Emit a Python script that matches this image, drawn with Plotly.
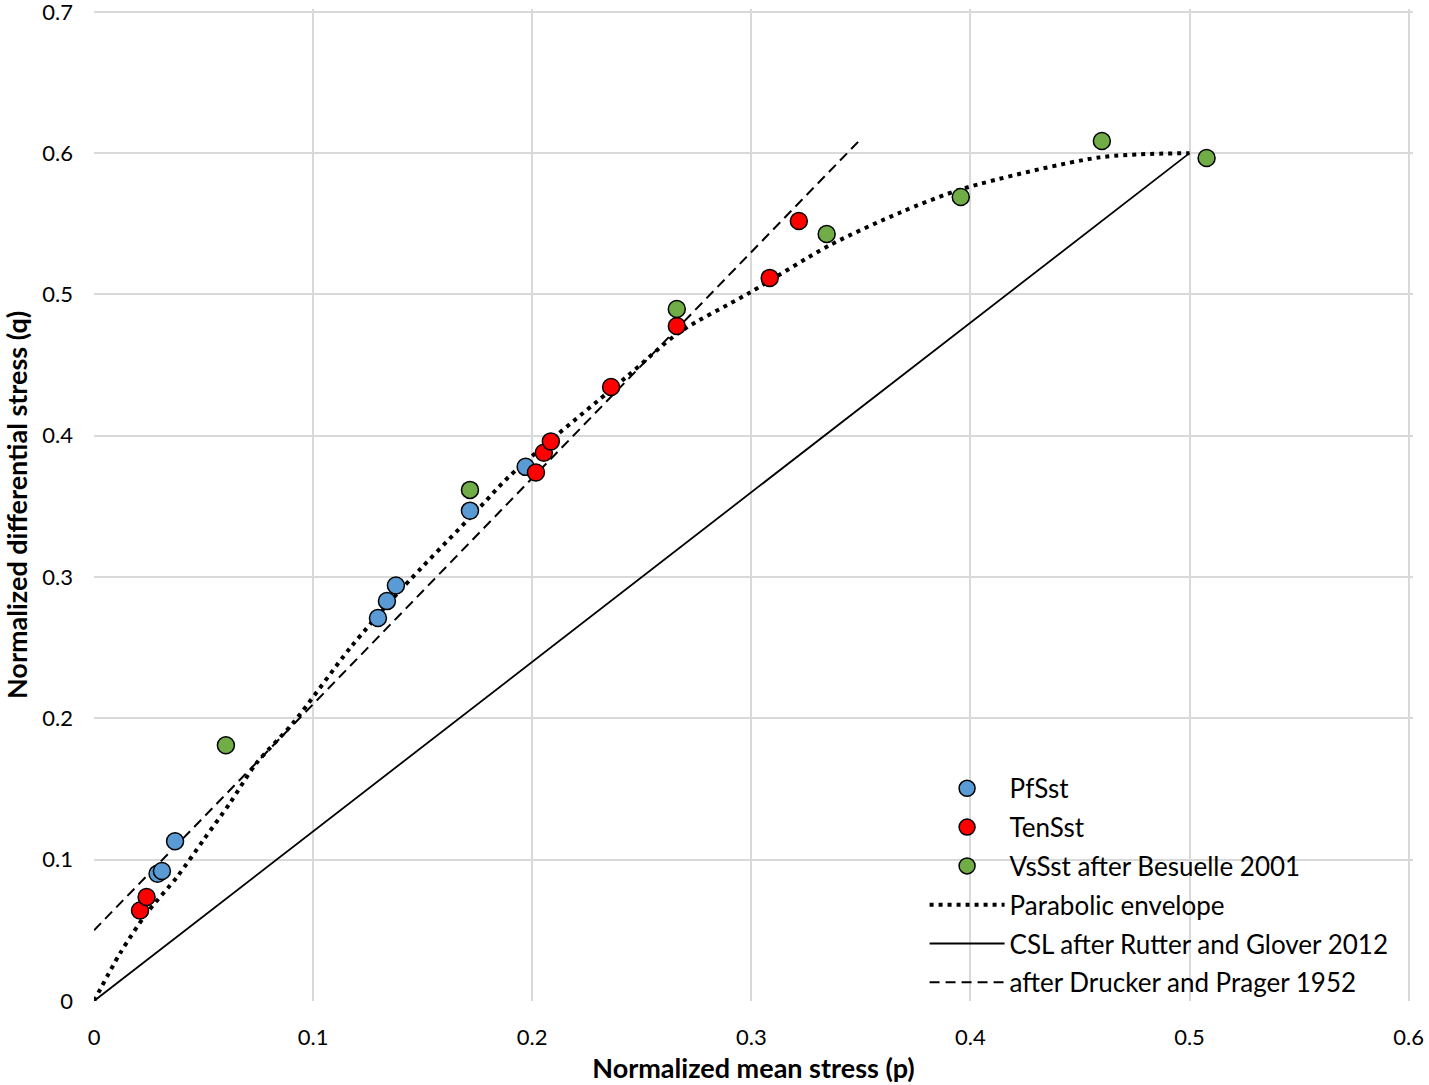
import plotly.graph_objects as go

# PfSst
pf_p = [0.037, 0.029, 0.031, 0.1296, 0.1337, 0.1378, 0.1716, 0.197]
pf_q = [0.113, 0.090, 0.092, 0.271, 0.283, 0.294, 0.347, 0.378]
# TenSst
ten_p = [0.021, 0.024, 0.2017, 0.2053, 0.2085, 0.236, 0.266, 0.3084, 0.3217]
ten_q = [0.064, 0.0736, 0.374, 0.388, 0.396, 0.4345, 0.4777, 0.5117, 0.552]
# VsSst after Besuelle 2001
vs_p = [0.0602, 0.1716, 0.266, 0.3344, 0.3956, 0.46, 0.5078]
vs_q = [0.181, 0.3617, 0.4897, 0.5428, 0.569, 0.6086, 0.5966]
# Parabolic envelope
par_p = [0, 0.012, 0.024, 0.038, 0.05, 0.062, 0.074, 0.091, 0.117, 0.14, 0.175, 0.19, 0.243, 0.267, 0.299, 0.336, 0.368, 0.397, 0.459, 0.5]
par_q = [0, 0.034, 0.062, 0.088, 0.114, 0.140, 0.168, 0.197, 0.250, 0.291, 0.3475, 0.372, 0.4416, 0.473, 0.501, 0.535, 0.558, 0.575, 0.597, 0.6]
# CSL after Rutter and Glover 2012
csl_p = [0, 0.5]
csl_q = [0, 0.6]
# after Drucker and Prager 1952
dp_p = [0, 0.35]
dp_q = [0.05, 0.61]

x_ticks = [0, 0.1, 0.2, 0.3, 0.4, 0.5, 0.6]
x_labels = ["0", "0.1", "0.2", "0.3", "0.4", "0.5", "0.6"]
y_ticks = [0, 0.1, 0.2, 0.3, 0.4, 0.5, 0.6, 0.7]
y_labels = ["0", "0.1", "0.2", "0.3", "0.4", "0.5", "0.6", "0.7"]

FONT = "Lato"
fig = go.Figure()

fig.add_trace(go.Scatter(x=par_p, y=par_q, mode="lines", name="Parabolic envelope",
                         line=dict(color="black", width=4, dash="4px,5px", shape="spline", smoothing=0.8),
                         legendrank=4, legendgroup="d"))
fig.add_trace(go.Scatter(x=csl_p, y=csl_q, mode="lines", name="CSL after Rutter and Glover 2012",
                         line=dict(color="black", width=1.8), legendrank=5, legendgroup="e"))
fig.add_trace(go.Scatter(x=dp_p, y=dp_q, mode="lines", name="after Drucker and Prager 1952",
                         line=dict(color="black", width=2, dash="10px,6px"), legendrank=6, legendgroup="f"))

mk = dict(size=17, line=dict(color="black", width=1.5))
fig.add_trace(go.Scatter(x=pf_p, y=pf_q, mode="markers", name="PfSst",
                         marker=dict(color="#5B9BD5", **mk), legendrank=1, legendgroup="a"))
fig.add_trace(go.Scatter(x=ten_p, y=ten_q, mode="markers", name="TenSst",
                         marker=dict(color="#FF0000", **mk), legendrank=2, legendgroup="b"))
fig.add_trace(go.Scatter(x=vs_p, y=vs_q, mode="markers", name="VsSst after Besuelle 2001",
                         marker=dict(color="#70AD47", **mk), legendrank=3, legendgroup="c"))

axis_common = dict(showgrid=True, gridcolor="#d9d9d9", gridwidth=2, zeroline=False,
                   showline=False, ticks="", automargin=False, ticklabeloverflow="allow",
                   tickfont=dict(family=FONT, size=22, color="black"))

fig.update_layout(
    width=1429, height=1085,
    margin=dict(l=94, r=16, t=9, b=84),
    paper_bgcolor="white", plot_bgcolor="white",
    font=dict(family=FONT, color="black"),
    xaxis=dict(range=[0, 0.602], tickvals=x_ticks, ticktext=x_labels, ticklabelstandoff=21,
               title=dict(text="<b>Normalized mean stress (p)</b>", font=dict(family=FONT, size=27), standoff=10),
               **axis_common),
    yaxis=dict(range=[0, 0.702], tickvals=y_ticks, ticktext=y_labels, ticklabelstandoff=20,
               title=dict(text="<b>Normalized differential stress (q)</b>", font=dict(family=FONT, size=27), standoff=12),
               **axis_common),
    showlegend=True,
    legend=dict(x=0.6297, y=0.238, xanchor="left", yanchor="top",
                bgcolor="rgba(0,0,0,0)", borderwidth=0,
                font=dict(family=FONT, size=26, color="black"),
                itemwidth=75, tracegroupgap=2, traceorder="grouped"),
    shapes=[dict(type="rect", xref="paper", yref="paper", x0=0.626, x1=1.0, y0=0, y1=0.2336,
                 fillcolor="white", line=dict(width=0), layer="between")],
)

fig.write_html("out.html", config={"displayModeBar": False},
               post_script="document.body.style.margin='0';document.body.style.padding='0';")
